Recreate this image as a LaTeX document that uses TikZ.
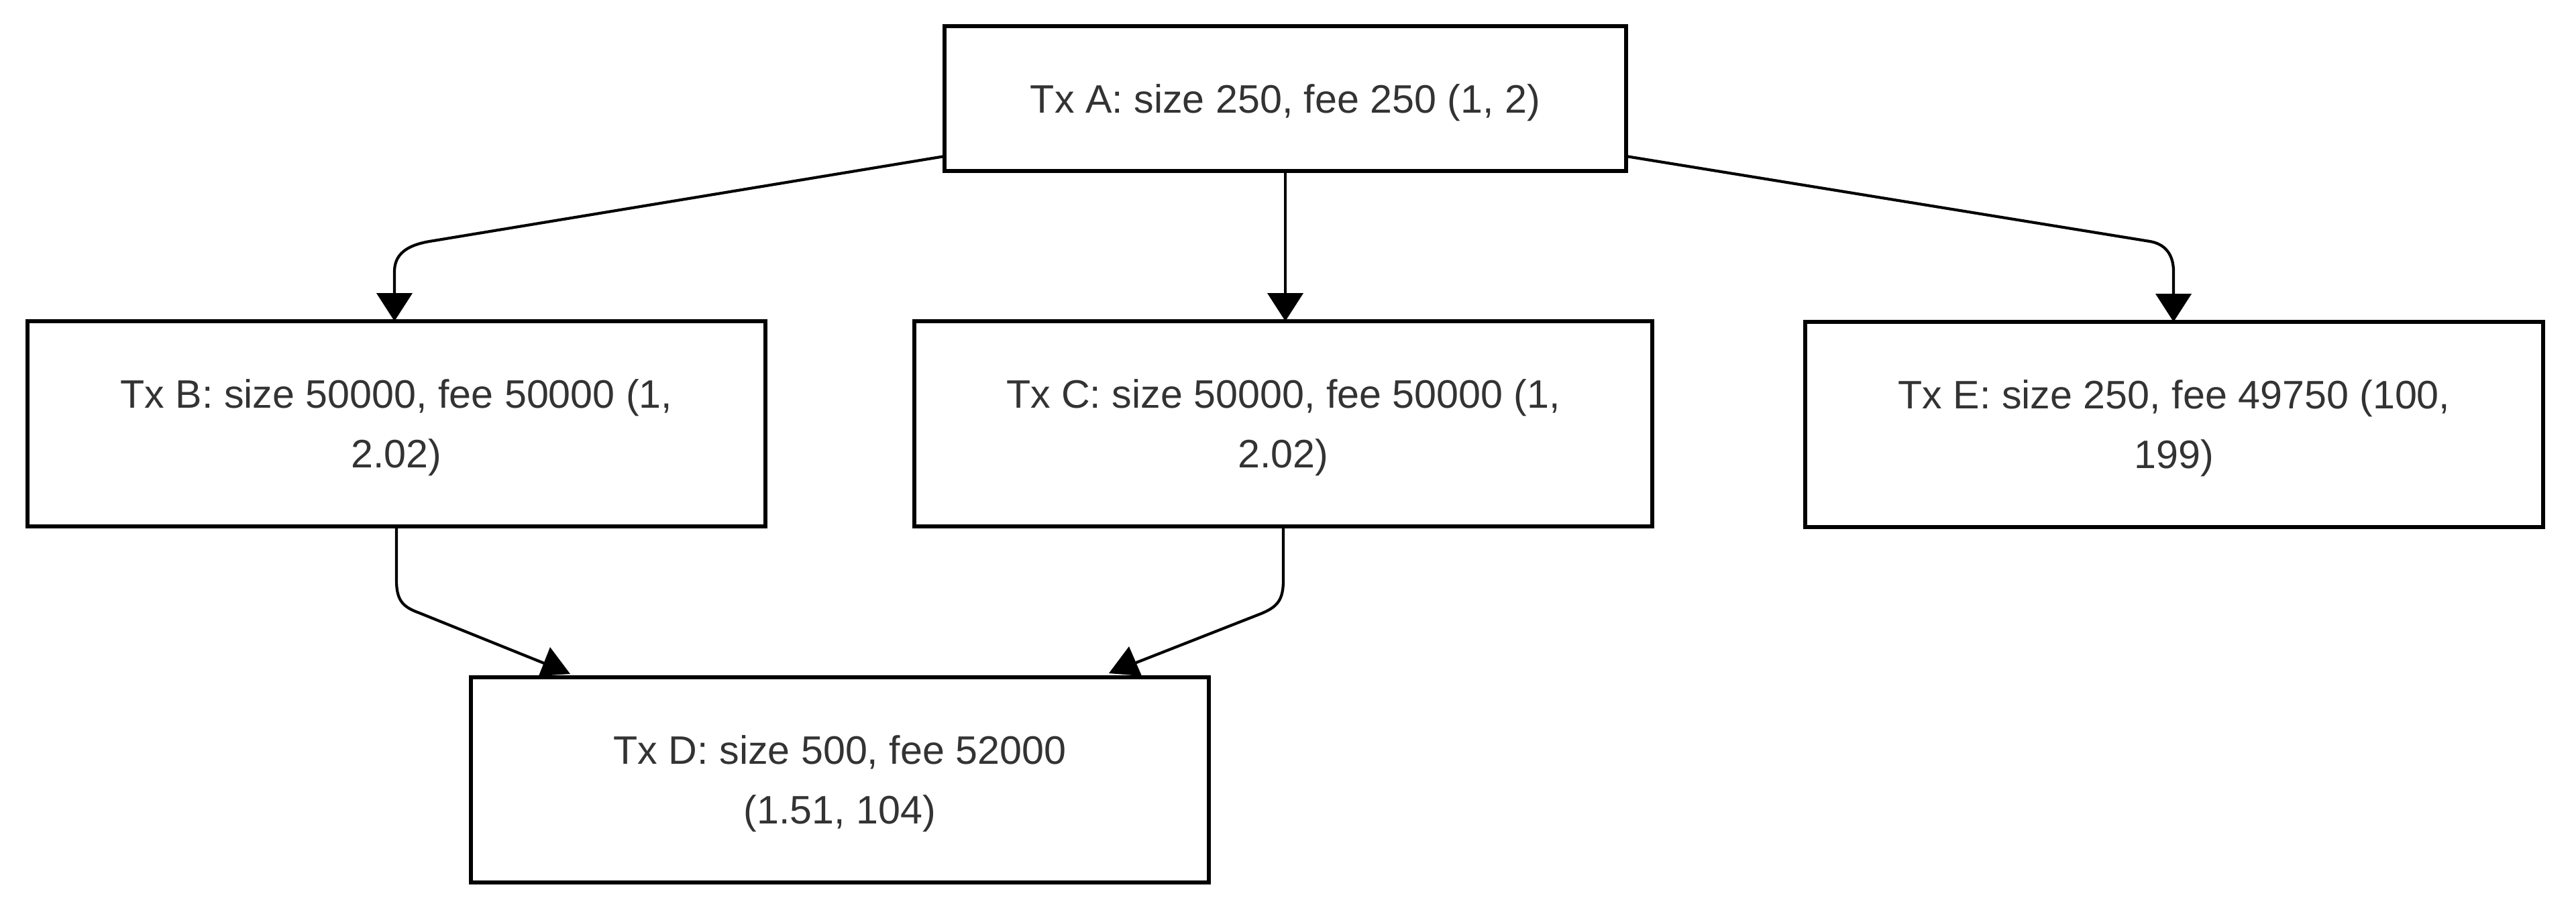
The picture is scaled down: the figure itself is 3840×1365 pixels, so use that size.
\documentclass[tikz,border=0pt]{standalone}
\usepackage{fontspec}
\setmainfont{Liberation Sans}
\usetikzlibrary{arrows.meta,calc}
\definecolor{txt}{HTML}{333333}
\begin{document}
\begin{tikzpicture}[x=0.25pt,y=-0.25pt,
  txbox/.style={draw=black, line width=1.5pt, rectangle, inner sep=0pt, outer sep=0pt,
    align=center, text=txt, font=\fontsize{14.8}{22.25}\selectfont, text depth=0pt,
    minimum width=275pt, minimum height=76.5pt},
  conn/.style={draw=black, line width=1.05pt, line cap=round, line join=round},
  tipd/.style={-{Triangle[length=10.5pt,width=13.25pt]}},
  head/.style={fill=black}]
\useasboundingbox (0,0) rectangle (3840,1365);

\node[txbox, minimum width=254pt, minimum height=54pt] (A) at (1916,147) {Tx A: size 250, fee 250 (1, 2)};
\node[txbox] (B) at (591,632) {Tx B: size 50000, fee 50000 (1,\\2.02)};
\node[txbox] (C) at (1913,632) {Tx C: size 50000, fee 50000 (1,\\2.02)};
\node[txbox] (E) at (3241,633) {Tx E: size 250, fee 49750 (100,\\199)};
\node[txbox] (D) at (1252,1163) {Tx D: size 500, fee 52000\\(1.51, 104)};

% A -> B
\draw[conn,tipd] ($(A.south west)+(0,-22)$) -- (640,360)
  .. controls (605,366) and (588,380) .. (588,405) -- ($(B.north)+(-3,0)$);
% A -> C
\draw[conn,tipd] (A.south) -- (A.south |- C.north);
% A -> E
\draw[conn,tipd] ($(A.south east)+(0,-22)$) -- (3205,360)
  .. controls (3228,364) and (3240,380) .. (3240,405) -- ($(E.north)+(-1,0)$);

% B -> D
\draw[conn] (B.south) -- (591,865)
  .. controls (591,895) and (600,905) .. (625,914) -- ($(D.north west)+(109,-21)$);
\fill[head] ($(D.north west)+(118,-45)$) -- ($(D.north west)+(101,-2)$) -- ($(D.north west)+(148,-5)$) -- cycle;
% C -> D
\draw[conn] (C.south) -- (1913,865)
  .. controls (1913,895) and (1904,905) .. (1880,915) -- ($(D.north west)+(992,-22)$);
\fill[head] ($(D.north west)+(981,-46)$) -- ($(D.north west)+(951,-6)$) -- ($(D.north west)+(1000,-2)$) -- cycle;
\end{tikzpicture}
\end{document}
